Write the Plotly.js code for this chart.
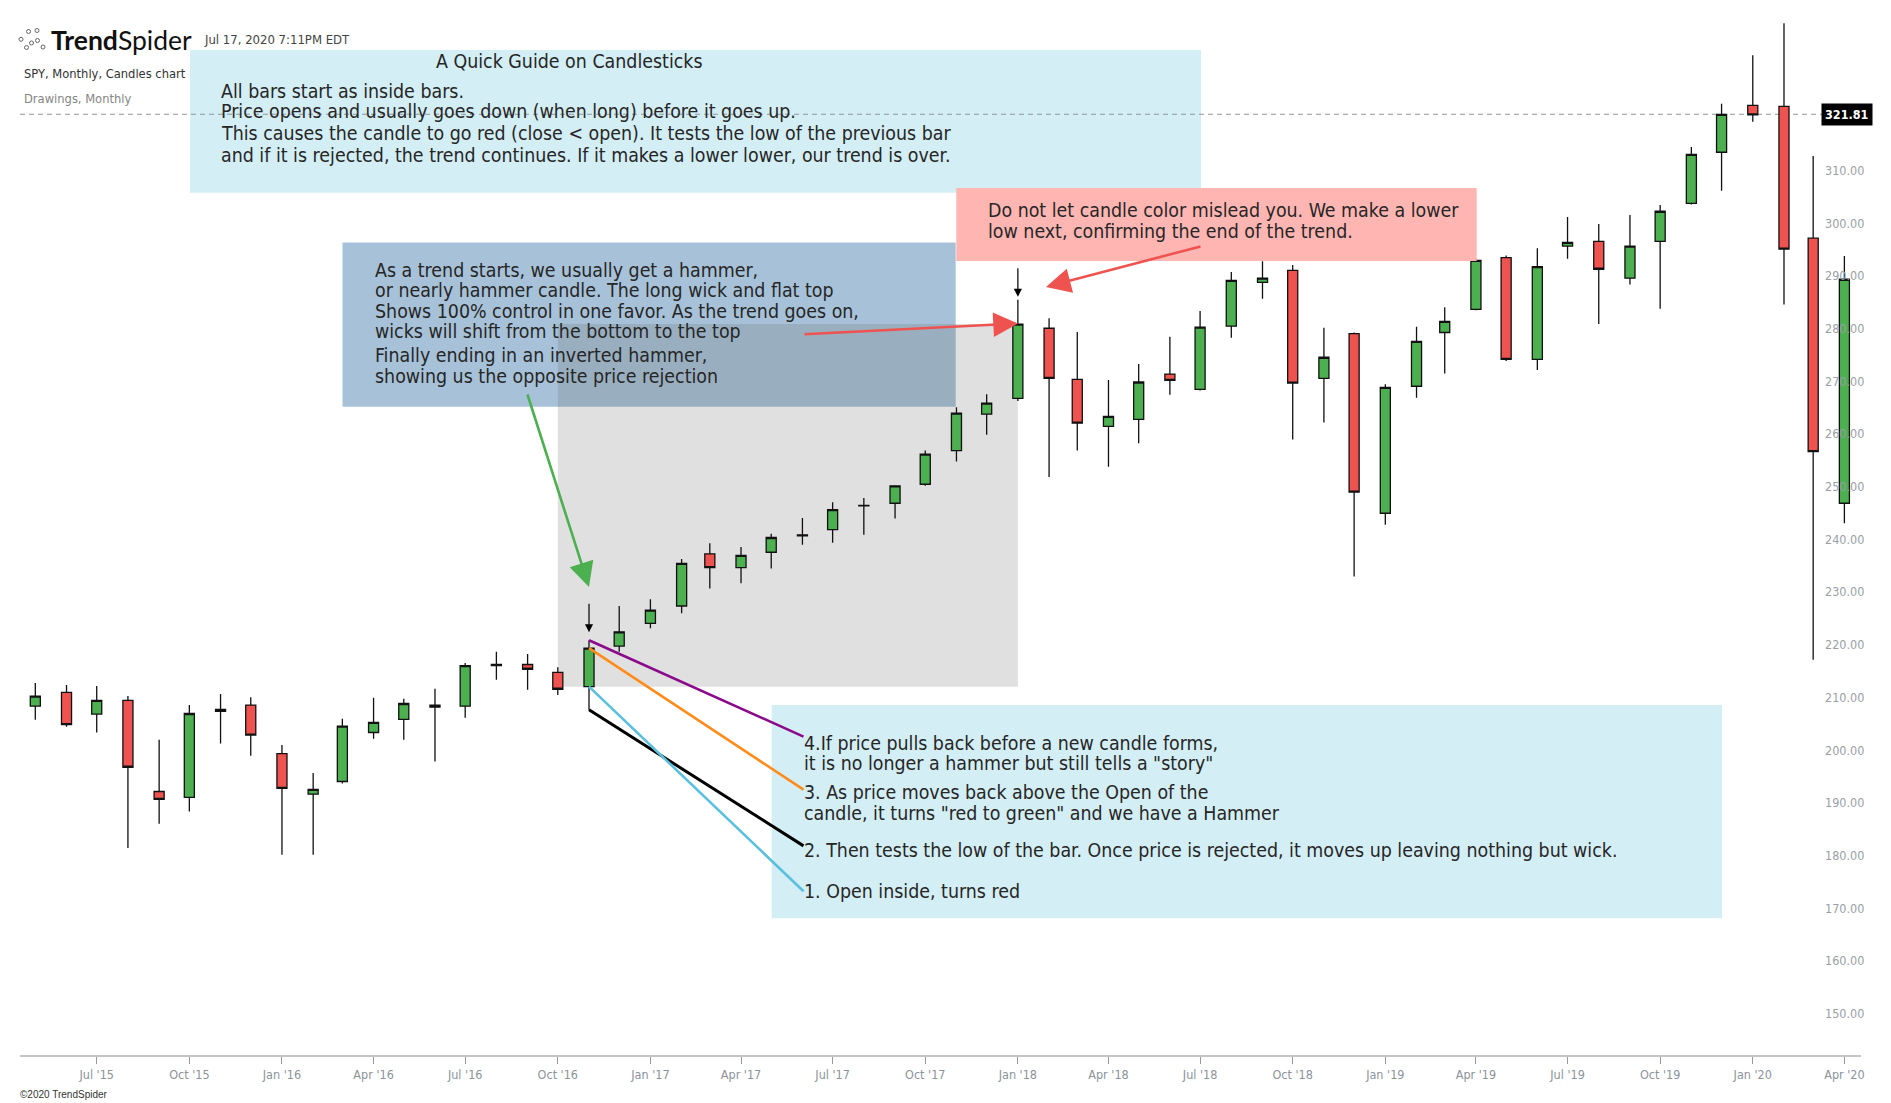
<!DOCTYPE html>
<html>
<head>
<meta charset="utf-8">
<script src="https://cdn.plot.ly/plotly-3.0.1.min.js"></script>
<style>
  html, body { margin: 0; padding: 0; background: #fff; }
  #chart { width: 1891px; height: 1103px; }
</style>
</head>
<body>
<div id="chart"></div>
<script>
// SPY monthly candles, May 2015 - Apr 2020
var months = [
  '2015-05-01','2015-06-01','2015-07-01','2015-08-01','2015-09-01','2015-10-01','2015-11-01','2015-12-01',
  '2016-01-01','2016-02-01','2016-03-01','2016-04-01','2016-05-01','2016-06-01','2016-07-01','2016-08-01',
  '2016-09-01','2016-10-01','2016-11-01','2016-12-01','2017-01-01','2017-02-01','2017-03-01','2017-04-01',
  '2017-05-01','2017-06-01','2017-07-01','2017-08-01','2017-09-01','2017-10-01','2017-11-01','2017-12-01',
  '2018-01-01','2018-02-01','2018-03-01','2018-04-01','2018-05-01','2018-06-01','2018-07-01','2018-08-01',
  '2018-09-01','2018-10-01','2018-11-01','2018-12-01','2019-01-01','2019-02-01','2019-03-01','2019-04-01',
  '2019-05-01','2019-06-01','2019-07-01','2019-08-01','2019-09-01','2019-10-01','2019-11-01','2019-12-01',
  '2020-01-01','2020-02-01','2020-03-01','2020-04-01'
];
var opens = [
  209.5, 212.1, 208.0, 210.6, 193.3, 192.2, 208.5, 209.7,
  200.5, 192.8, 195.2, 204.5, 207.0, 209.3, 209.5, 217.2,
  217.4, 215.9, 213.2, 220.9, 225.2, 228.5, 238.4, 235.8,
  238.7, 242.0, 243.0, 247.5, 248.0, 251.6, 258.0, 264.9,
  267.9, 281.2, 271.5, 262.6, 263.9, 272.5, 269.6, 281.6,
  289.9, 292.2, 271.7, 280.2, 246.1, 270.2, 280.4, 284.8,
  294.6, 275.3, 296.8, 297.7, 290.7, 297.7, 304.9, 314.6,
  323.5, 323.3, 298.3, 248.0
];
var highs = [
  213.9, 213.5, 213.3, 211.4, 203.1, 209.7, 211.8, 211.2,
  202.1, 196.8, 207.1, 211.1, 210.9, 212.8, 217.7, 219.8,
  219.4, 216.9, 222.0, 228.5, 229.8, 237.4, 240.4, 239.7,
  242.2, 245.2, 248.2, 249.0, 251.4, 258.0, 266.2, 268.7,
  286.6, 283.1, 280.5, 271.4, 274.4, 279.6, 284.5, 291.9,
  293.9, 293.2, 281.3, 280.4, 270.6, 281.5, 285.2, 294.4,
  295.0, 296.4, 302.3, 301.0, 302.7, 304.6, 315.6, 323.8,
  333.0, 339.1, 313.9, 294.9
];
var lows = [
  206.9, 205.6, 204.5, 182.6, 187.2, 189.5, 202.4, 200.1,
  181.3, 181.3, 194.8, 203.3, 203.1, 199.0, 207.3, 214.5,
  212.6, 211.6, 208.8, 219.8, 224.3, 227.1, 231.8, 232.8,
  235.6, 240.1, 240.5, 242.0, 245.1, 251.3, 255.9, 261.0,
  267.4, 253.0, 258.0, 254.9, 259.4, 268.6, 269.4, 279.4,
  286.8, 260.1, 263.3, 234.1, 243.9, 268.0, 272.6, 284.6,
  275.0, 273.3, 294.4, 282.0, 289.5, 284.9, 304.7, 307.3,
  320.4, 285.7, 218.3, 244.2
];
var closes = [
  211.4, 206.0, 210.6, 197.9, 191.8, 208.1, 208.9, 204.0,
  193.9, 193.7, 205.7, 206.4, 210.0, 209.7, 217.2, 217.4,
  216.5, 212.7, 220.5, 223.6, 227.7, 236.6, 235.8, 238.1,
  241.5, 241.8, 246.8, 247.6, 251.3, 257.3, 265.1, 267.0,
  282.0, 271.7, 263.2, 264.5, 271.0, 271.3, 281.4, 290.3,
  290.7, 270.8, 275.7, 250.1, 270.0, 278.7, 282.5, 294.1,
  275.3, 292.9, 297.5, 292.4, 296.8, 303.4, 314.2, 321.8,
  321.7, 296.2, 257.8, 290.5
];
var lastPrice = 321.81;
var yTicks = [150, 160, 170, 180, 190, 200, 210, 220, 230, 240, 250, 260, 270, 280, 290, 300, 310];

var hammer = 18;   // Nov '16 candle
var topBar = 32;   // Jan '18 candle
var zoneStart = 17; // Oct '16

var FONT = "'DejaVu Sans Condensed', 'DejaVu Sans', sans-serif";
var TXT = '#262626';
var NOTE_SIZE = 19.4;

// plot area in page pixels, used to place the drawings
var L = 20, R = 1861, T = 0, B = 1055;
function fx(px) { return (px - L) / (R - L); }
function fy(py) { return (B - py) / (B - T); }

function box(x0, y0, x1, y1, color, layer) {
  return {type: 'rect', xref: 'paper', yref: 'paper', x0: fx(x0), x1: fx(x1), y0: fy(y1), y1: fy(y0),
          fillcolor: color, line: {width: 0}, layer: layer || 'below'};
}
function note(text, x, y, extra) {
  var a = {xref: 'paper', yref: 'paper', x: fx(x), y: fy(y), xanchor: 'left', yanchor: 'middle',
           text: text, showarrow: false, borderpad: 0,
           font: {family: FONT, size: NOTE_SIZE, color: TXT}};
  for (var k in extra) a[k] = extra[k];
  return a;
}
function arrow(x, y, ax, ay, color, width, size) {
  return {xref: 'paper', yref: 'paper', x: fx(x), y: fy(y), ax: ax, ay: ay, text: '',
          showarrow: true, arrowhead: 2, arrowsize: size, arrowwidth: width, arrowcolor: color};
}
function leg(yval, ax, ay, color, width) {
  return {xref: 'x', yref: 'y', x: months[hammer], y: yval, ax: ax, ay: ay, text: '',
          showarrow: true, arrowhead: 0, arrowwidth: width, arrowcolor: color};
}

var candles = {
  type: 'candlestick',
  x: months, open: opens, high: highs, low: lows, close: closes,
  increasing: {line: {color: '#111', width: 1.3}, fillcolor: '#4CAF50'},
  decreasing: {line: {color: '#111', width: 1.3}, fillcolor: '#EF5350'},
  whiskerwidth: 0,
  hoverinfo: 'skip',
  showlegend: false
};

var shapes = [
  box(190, 50, 1201, 192.7, '#D4EEF5'),
  box(342.5, 242.4, 955.7, 406.7, '#A7C2D8'),
  box(771.7, 705, 1722, 918.3, '#D4EEF5'),
  {type: 'rect', xref: 'x', yref: 'y', x0: months[zoneStart], x1: months[topBar],
   y0: opens[hammer], y1: closes[topBar], fillcolor: 'rgba(100,100,100,0.2)', line: {width: 0}, layer: 'below'},
  {type: 'line', xref: 'paper', yref: 'y', x0: 0, x1: fx(1822), y0: lastPrice, y1: lastPrice,
   line: {color: '#8d979c', width: 1, dash: '5px,4px'}, layer: 'below'},
  box(956.3, 188, 1476.7, 261, '#FFB6B3', 'above')
];

// little logo mark
var dots = [[21, 39.3], [28.5, 31.5], [37, 30.5], [31.5, 43], [37.5, 40.5], [43, 47], [26.5, 47.5]];
dots.forEach(function (d) {
  shapes.push({type: 'circle', xref: 'paper', yref: 'paper', x0: fx(d[0] - 2), x1: fx(d[0] + 2),
               y0: fy(d[1] + 2), y1: fy(d[1] - 2), line: {color: '#666', width: 1}, layer: 'above'});
});

var annotations = [
  // header
  {xref: 'paper', yref: 'paper', x: fx(49), y: fy(39.5), xanchor: 'left', yanchor: 'middle', showarrow: false,
   text: '<b>Trend</b>Spider', font: {family: 'Lato, sans-serif', size: 26.5, color: '#111'}},
  note('Jul 17, 2020 7:11PM EDT', 203, 40, {font: {family: FONT, size: 13, color: '#444'}}),
  note('SPY, Monthly, Candles chart', 23, 73.3, {font: {family: FONT, size: 12.8, color: '#333'}}),
  note('Drawings, Monthly', 23, 98.3, {font: {family: FONT, size: 12.8, color: '#858585'}}),
  note('\u00a92020 TrendSpider', 19, 1094, {font: {family: 'Liberation Sans, sans-serif', size: 10, color: '#333'}}),

  // top guide box
  note('A Quick Guide on Candlesticks', 569, 61.5, {xanchor: 'center'}),
  note('All bars start as inside bars.', 220, 91.5),
  note('Price opens and usually goes down (when long) before it goes up.', 220, 112),
  note('This causes the candle to go red (close &lt; open). It tests the low of the previous bar', 220, 133.5),
  note('and if it is rejected, the trend continues. If it makes a lower lower, our trend is over.', 220, 156),

  // hammer box
  note('As a trend starts, we usually get a hammer,', 374, 270),
  note('or nearly hammer candle. The long wick and flat top', 374, 290.7),
  note('Shows 100% control in one favor. As the trend goes on,', 374, 311),
  note('wicks will shift from the bottom to the top', 374, 331.7),
  note('Finally ending in an inverted hammer,', 374, 355.7),
  note('showing us the opposite price rejection', 374, 376.7),

  // pink box
  note('Do not let candle color mislead you. We make a lower', 986.5, 210.7),
  note('low next, confirming the end of the trend.', 986.5, 231.7),

  // bottom box
  note('4.If price pulls back before a new candle forms,', 803.3, 743.3),
  note('it is no longer a hammer but still tells a "story"', 803.3, 763.3),
  note('3. As price moves back above the Open of the', 803.3, 792.7),
  note('candle, it turns "red to green" and we have a Hammer', 803.3, 813.3),
  note('2. Then tests the low of the bar. Once price is rejected, it moves up leaving nothing but wick.', 803.3, 850.7),
  note('1. Open inside, turns red', 803.3, 891.7),

  // big arrows
  arrow(589, 587, -62, -194, '#4CAF50', 2.6, 1.9),
  arrow(1018, 323.5, -215, 10.8, '#EF5350', 2.6, 1.9),
  arrow(1046, 287, 156, -41, '#EF5350', 2.6, 1.9),

  // lines from the hammer candle to the notes
  leg(highs[hammer], 216, 97, '#8B0A8B', 2.6),
  leg(closes[hammer], 216, 142.5, '#FF8C1A', 2.6),
  leg(lows[hammer], 216, 137, '#000000', 3),
  leg(opens[hammer], 216, 206, '#5BC0DE', 2.6),

  // candle markers
  {xref: 'x', yref: 'y', x: months[hammer], y: highs[hammer], ax: 0, ay: -38, standoff: 8, text: '',
   showarrow: true, arrowhead: 2, arrowsize: 1.35, arrowwidth: 1.2, arrowcolor: '#000'},
  {xref: 'x', yref: 'y', x: months[topBar], y: highs[topBar], ax: 0, ay: -33, standoff: 3, text: '',
   showarrow: true, arrowhead: 2, arrowsize: 1.35, arrowwidth: 1.2, arrowcolor: '#000'},

  // last price tag
  {xref: 'paper', yref: 'y', x: fx(1846.5), y: lastPrice, xanchor: 'center', yanchor: 'middle', showarrow: false,
   text: '<b>' + lastPrice.toFixed(2) + '</b>', bgcolor: '#000', borderpad: 3,
   font: {family: FONT, size: 12.5, color: '#fff'}}
];

var layout = {
  width: 1891, height: 1103,
  margin: {l: L, r: 1891 - R, t: T, b: 1103 - B, pad: 0},
  paper_bgcolor: '#fff', plot_bgcolor: '#fff',
  showlegend: false,
  boxgap: 0.3, boxgroupgap: 0.49,
  xaxis: {
    type: 'date',
    range: ['2015-04-15 19:00', '2020-04-17 12:00'],
    rangeslider: {visible: false},
    showgrid: false, zeroline: false,
    showline: true, linecolor: '#c4c4c4', linewidth: 2,
    ticks: 'outside', ticklen: 7, tickcolor: '#9a9a9a', tickwidth: 1,
    dtick: 'M3', tick0: '2015-07-01', tickformat: "%b '%y",
    tickfont: {family: FONT, size: 12.5, color: '#8b939b'},
    fixedrange: true
  },
  yaxis: {
    range: [143.3, 343.49],
    side: 'right',
    ticklabelposition: 'outside',
    tickvals: yTicks, tickformat: '.2f',
    ticklabelshift: -6, ticklabelstandoff: -37,
    showgrid: false, zeroline: false, showline: false, ticks: '',
    tickfont: {family: FONT, size: 12.5, color: '#9aa0a6'},
    fixedrange: true
  },
  shapes: shapes,
  annotations: annotations
};

Plotly.newPlot('chart', [candles], layout, {displayModeBar: false, staticPlot: true});
</script>
</body>
</html>
